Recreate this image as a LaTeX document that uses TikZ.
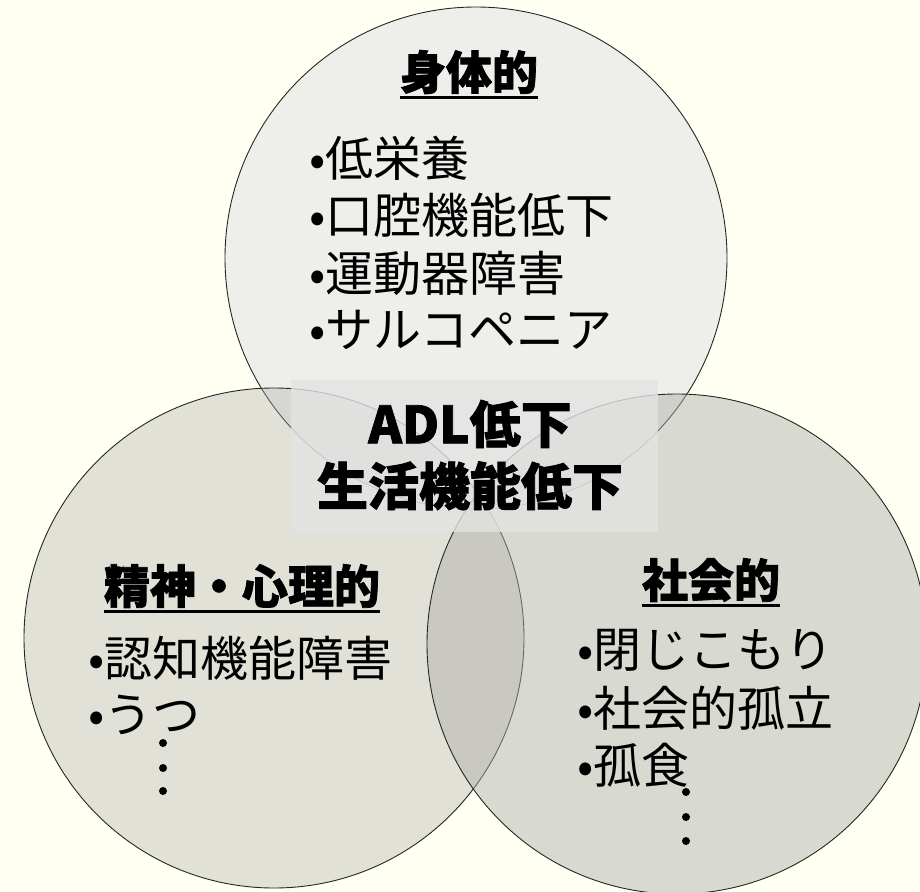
\documentclass[tikz,border=0pt]{standalone}
\usepackage{fontspec}
\usetikzlibrary{calc}
\newfontfamily\jp{Noto Sans CJK JP}
\newfontfamily\jph[BoldFeatures={FakeBold=1.6}]{Noto Sans CJK JP}
\definecolor{bgc}{RGB}{255,255,242}
\definecolor{topc}{RGB}{238,239,235}
\definecolor{lowc}{RGB}{174,174,172}
\definecolor{rowc}{RGB}{174,175,170}
\definecolor{boxc}{RGB}{227,227,227}
\tikzset{
  circ/.style={circle, draw=black!85, line width=0.9pt, inner sep=0pt, minimum size=500pt},
  hdr/.style={font=\jph\bfseries\fontsize{46}{50}\selectfont, inner sep=0pt, text=black},
  itm/.style={font=\jp\fontsize{48}{56}\selectfont, inner sep=0pt, anchor=west, text=black},
  uline/.style={line width=3pt, black},
  core/.style={font=\jph\bfseries\fontsize{51}{62}\selectfont, inner sep=0pt, align=center},
  dotc/.style={fill=black}
}
\begin{document}
\begin{tikzpicture}[x=1pt,y=-1pt]
\fill[bgc] (0,0) rectangle (920,891);
\useasboundingbox (0,0) rectangle (920,891);
% circles
\node[circ, fill=topc, minimum size=502pt] (cTop) at (476,258) {};
\node[circ, fill=lowc, fill opacity=0.37] (cLeft) at (274,638) {};
\node[circ, fill=rowc, fill opacity=0.47] (cRight) at (677,644) {};
% centre box
\node[fill=boxc, fill opacity=0.8, minimum width=367pt, minimum height=152pt, inner sep=0pt] (box) at (474.5,456) {};
\node[core, text=black] (core) at (470,455) {ADL低下\\生活機能低下};
% headers
\node[hdr] (h1) at (469,72) {身体的};
\node[hdr] (h2) at (242,586) {精神・心理的};
\node[hdr] (h3) at (711,580) {社会的};
\foreach \h in {h1,h2,h3}{
  \draw[uline] ($(\h.south west)+(0,3)$) -- ($(\h.south east)+(0,3)$);
}
% top list
\node[itm] (t1) at (309,158) {•低栄養};
\node[itm] (t2) at (309,215) {•口腔機能低下};
\node[itm] (t3) at (309,273) {•運動器障害};
\node[itm] (t4) at (309,330) {•サルコペニア};
% left list
\node[itm] (l1) at (88,658) {•認知機能障害};
\node[itm] (l2) at (88,715) {•うつ};
% right list
\node[itm] (r1) at (577,650) {•閉じこもり};
\node[itm] (r2) at (577,708) {•社会的孤立};
\node[itm] (r3) at (577,765) {•孤食};
% continuation dots
\foreach \y in {743,768,791} \fill[dotc] (163,\y) circle[radius=4pt];
\foreach \y in {792,817,841} \fill[dotc] (686,\y) circle[radius=4pt];
\end{tikzpicture}
\end{document}
